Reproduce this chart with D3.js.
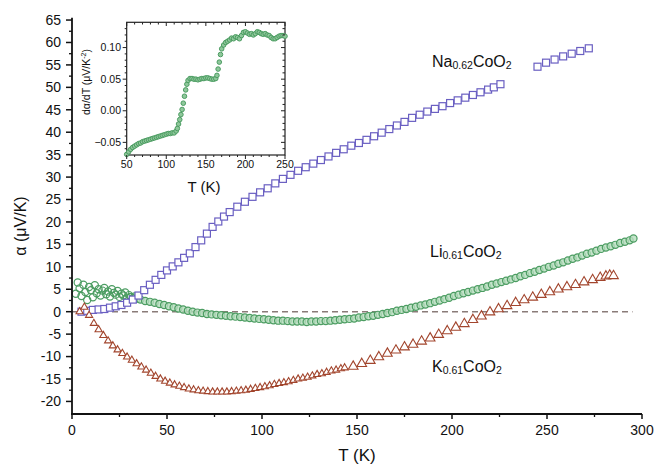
<!DOCTYPE html>
<html><head><meta charset="utf-8">
<script src="https://cdn.jsdelivr.net/npm/d3@7"></script>
<style>body{margin:0;background:#fff}svg{display:block}text{font-family:"Liberation Sans",Arial,sans-serif;fill:#111}</style>
</head><body><div id="c"></div>
<script>
// ---------- data ----------
const naT = [5,8,11,14,17,20,23,26,29,32,35,38,41,44,47,50,53,56,59,62,65,68,71,74,77,80,83,87,91,95,99,103,107,111,115,119,123,127,131,135,139,143,147,151,155,159,163,167,171,175,179,183,187,191,195,199,203,207,211,215,219,222,225.5,
             245,249.5,254,258.5,263,267.5,272];
const naA = [0.0,0.2,0.4,0.5,0.6,0.9,1.2,1.5,2.0,2.7,3.6,4.8,6.0,7.1,8.2,9.2,10.1,11.0,12.0,13.0,14.4,15.9,17.4,18.9,20.1,21.2,22.2,23.4,24.5,25.6,26.6,27.5,28.6,29.6,30.5,31.4,32.2,33.0,33.8,34.6,35.4,36.2,37.0,37.6,38.3,39.1,39.9,40.7,41.5,42.3,43.2,43.9,44.6,45.2,45.8,46.5,47.1,47.7,48.3,48.9,49.5,50.0,50.7,
             54.6,55.5,56.2,56.9,57.5,58.1,58.7];

const kT1 = [4,6.5,9,11.5,14,16.5,19,21.5,24,26.5,29,31.5,34,36.5,39,41.5,44,46.5,49,51.5,54,56.5,59,61.5,64,66.5,69,71.5,74,76.5,79,81.5,84,86.5,89,91.5,94,96.5,99,101.5,104,106.5,109,111.5,114,116.5,119,121.5,124,126.5,129,131.5,134,136.5,139,141.5,143.5];
const kA1 = [0.0,1.0,-0.8,-2.6,-4.0,-5.3,-6.5,-7.6,-8.5,-9.3,-10.1,-10.8,-11.6,-12.3,-13.0,-13.7,-14.4,-15.0,-15.5,-15.9,-16.3,-16.6,-16.9,-17.2,-17.4,-17.6,-17.7,-17.8,-17.9,-17.9,-17.9,-17.9,-17.8,-17.7,-17.6,-17.5,-17.3,-17.1,-16.9,-16.7,-16.5,-16.2,-16.0,-15.8,-15.6,-15.3,-15.0,-14.8,-14.6,-14.3,-14.0,-13.8,-13.5,-13.2,-13.0,-12.7,-12.5];
const kT2 = [148,152.5,157,161.5,166,170.5,175,179.5,184,188.5,193,197.5,202,206.5,211,215.5,220,224.5,229,233.5,238,242.5,247,251.5,256,260.5,265,269.5,274,278,281,283,285];
const kA2 = [-12.2,-11.6,-10.9,-10.1,-9.3,-8.6,-7.9,-7.3,-6.6,-5.9,-5.1,-4.3,-3.5,-2.7,-1.8,-1.0,-0.1,0.6,1.3,2.0,2.6,3.2,3.8,4.4,5.0,5.5,6.0,6.6,7.1,7.6,7.9,8.1,8.0];

const liT = [2,3,4,5,6,7,8,9,10,11,12,13,14,15,16,17,18,19,20,21,22,23,24,25,26,27,28,29,30,31,32,33,34,
  36,38.5,41,43.5,46,48.5,51,53.5,56,58.5,61,63.5,66,68.5,71,73.5,76,78.5,81,83.5,86,88.5,91,93.5,96,98.5,101,103.5,106,108.5,111,113.5,116,118.5,121,123.5,126,128.5,131,133.5,136,138.5,141,143.5,146,148.5,151,153.5,156,158.5,161,163.5,166,168.5,171,173.5,176,178.5,181,183.5,186,188.5,191,193.5,196,198.5,201,203.5,206,208.5,211,213.5,216,218.5,221,223.5,226,228.5,231,233.5,236,238.5,241,243.5,246,248.5,251,253.5,256,258.5,261,263.5,266,268.5,271,273.5,276,278.5,281,283.5,286,288.5,291,293.5,295.5];
const liA = [4.0,6.5,5.2,3.5,6.0,4.4,2.6,5.5,4.8,3.2,5.9,4.1,5.0,3.6,4.7,5.3,3.9,4.5,3.4,5.0,4.2,3.8,4.6,3.3,4.0,3.6,4.3,3.1,3.7,3.3,3.0,3.4,2.9,
  2.7,2.4,2.2,2.0,1.7,1.5,1.2,1.0,0.7,0.5,0.2,0.0,-0.2,-0.3,-0.5,-0.6,-0.7,-0.8,-0.9,-1.0,-1.1,-1.2,-1.3,-1.4,-1.5,-1.6,-1.7,-1.8,-1.9,-2.0,-2.0,-2.1,-2.2,-2.2,-2.2,-2.3,-2.2,-2.2,-2.1,-2.1,-2.0,-1.9,-1.8,-1.7,-1.6,-1.5,-1.3,-1.2,-1.0,-0.9,-0.7,-0.5,-0.3,-0.1,0.2,0.4,0.6,0.9,1.1,1.4,1.6,1.9,2.2,2.5,2.8,3.1,3.5,3.8,4.1,4.4,4.7,5.0,5.3,5.6,6.0,6.3,6.6,6.9,7.2,7.5,7.9,8.2,8.6,8.9,9.3,9.6,10.0,10.3,10.7,11.0,11.4,11.8,12.1,12.5,12.9,13.2,13.6,14.0,14.3,14.6,14.9,15.3,15.6,15.9,16.3];

const inT = [50,52.5,55,57.5,60,62.5,65,67.5,70,72.5,75,77.5,80,82.5,85,87.5,90,92.5,95,97.5,100,102.5,105,107.5,110,112.5,114,115.5,117,118.5,120,121.5,123,124.5,126,127.5,130,132.5,135,137.5,140,142.5,145,147.5,150,152.5,155,157.5,160,162.5,164,165.5,167,168.5,170,172.5,175,177.5,180,182.5,185,187.5,190,192.5,195,197.5,200,202.5,205,207.5,210,212.5,215,217.5,220,222.5,225,227.5,230,232.5,235,237.5,240,242.5,245,247.5,250];
const inV = [-0.069,-0.065,-0.061,-0.058,-0.056,-0.054,-0.052,-0.051,-0.049,-0.048,-0.047,-0.046,-0.045,-0.044,-0.043,-0.042,-0.041,-0.040,-0.039,-0.038,-0.037,-0.036,-0.036,-0.035,-0.035,-0.032,-0.028,-0.021,-0.014,-0.006,0.002,0.012,0.023,0.033,0.042,0.048,0.051,0.051,0.050,0.050,0.049,0.050,0.051,0.051,0.052,0.052,0.051,0.050,0.050,0.051,0.056,0.066,0.077,0.089,0.098,0.104,0.108,0.110,0.112,0.115,0.114,0.117,0.116,0.114,0.119,0.124,0.125,0.123,0.121,0.122,0.120,0.122,0.125,0.124,0.122,0.121,0.122,0.120,0.119,0.116,0.114,0.114,0.116,0.118,0.119,0.119,0.118];

const xTicks = [0,50,100,150,200,250,300];
const yTicks = [-20,-15,-10,-5,0,5,10,15,20,25,30,35,40,45,50,55,60,65];
const inXTicks = [50,100,150,200,250];
const inYTicks = [-0.05,0.00,0.05,0.10];

// ---------- drawing ----------
const W=654,H=467;
const svg=d3.select("#c").append("svg").attr("width",W).attr("height",H);
const x=d3.scaleLinear().domain([0,300]).range([72,642]);
const y=d3.scaleLinear().domain([-22.8,65.5]).range([414,17.8]);

const colNa="#6a5fc2", colLi="#4c9d62", colK="#a2452d";

// dashed zero line
svg.append("line").attr("x1",x(0)).attr("x2",x(295)).attr("y1",y(0)).attr("y2",y(0))
  .attr("stroke","#8a7b78").attr("stroke-width",1.5).attr("stroke-dasharray","6,4");

// Li circles
svg.append("g").selectAll("circle").data(liT).join("circle")
  .attr("cx",(d)=>x(d)).attr("cy",(d,i)=>y(liA[i])).attr("r",3.6)
  .attr("fill",(d,i)=>i<33?"none":"#b5dcbd").attr("fill-opacity",0.8).attr("stroke",colLi).attr("stroke-width",1.2);

// Na squares
const sq=7;
svg.append("g").selectAll("rect").data(naT).join("rect")
  .attr("x",(d)=>x(d)-sq/2).attr("y",(d,i)=>y(naA[i])-sq/2).attr("width",sq).attr("height",sq)
  .attr("fill","#fff").attr("stroke",colNa).attr("stroke-width",1.2);

// K triangles
const tri=d3.symbol().type(d3.symbolTriangle);
svg.append("g").selectAll("path").data(kT1).join("path")
  .attr("d",tri.size(22)())
  .attr("transform",(d,i)=>`translate(${x(d)},${y(kA1[i])})`)
  .attr("fill","#fff").attr("stroke",colK).attr("stroke-width",1.1);
svg.append("g").selectAll("path").data(kT2).join("path")
  .attr("d",d3.symbol().type(d3.symbolTriangle).size(40)())
  .attr("transform",(d,i)=>`translate(${x(d)},${y(kA2[i])})`)
  .attr("fill","#fff").attr("stroke",colK).attr("stroke-width",1.1);

// axes
const xAxis=svg.append("g").attr("transform",`translate(0,414)`);
xAxis.append("line").attr("x1",71).attr("x2",x(300)).attr("stroke","#111").attr("stroke-width",1.8);
xAxis.selectAll(".mj").data(xTicks).join("line").attr("x1",d=>x(d)).attr("x2",d=>x(d)).attr("y1",0).attr("y2",5).attr("stroke","#111").attr("stroke-width",1.5);
xAxis.selectAll(".mn").data(xTicks.slice(0,-1)).join("line").attr("class","mn").attr("x1",d=>x(d+25)).attr("x2",d=>x(d+25)).attr("y1",0).attr("y2",3).attr("stroke","#111").attr("stroke-width",1.3);
xAxis.selectAll("text").data(xTicks).join("text").attr("x",d=>x(d)).attr("y",21).attr("text-anchor","middle").attr("font-size",14).text(d=>d);

const yAxis=svg.append("g").attr("transform",`translate(72,0)`);
yAxis.append("line").attr("y1",y(65.5)).attr("y2",415).attr("stroke","#111").attr("stroke-width",1.8);
yAxis.selectAll(".mj").data(yTicks).join("line").attr("x1",-6).attr("x2",0).attr("y1",d=>y(d)).attr("y2",d=>y(d)).attr("stroke","#111").attr("stroke-width",1.5);
yAxis.selectAll(".mn").data(yTicks.slice(0,-1)).join("line").attr("class","mn").attr("x1",-3).attr("x2",0).attr("y1",d=>y(d+2.5)).attr("y2",d=>y(d+2.5)).attr("stroke","#111").attr("stroke-width",1.3);
yAxis.selectAll("text").data(yTicks).join("text").attr("x",-11).attr("y",d=>y(d)).attr("dy","0.35em").attr("text-anchor","end").attr("font-size",14).text(d=>d);

svg.append("text").attr("x",357).attr("y",461).attr("text-anchor","middle").attr("font-size",17).text("T (K)");
svg.append("text").attr("transform","translate(26,226) rotate(-90)").attr("text-anchor","middle").attr("font-size",16).text("α (μV/K)");

// series labels
function label(px,py,a,sub,b,sub2){
  const t=svg.append("text").attr("x",px).attr("y",py).attr("font-size",16);
  t.append("tspan").text(a);
  t.append("tspan").attr("font-size",10.5).attr("dy",1.5).text(sub);
  t.append("tspan").attr("dy",-1.5).text(b);
  t.append("tspan").attr("font-size",10.5).attr("dy",1.5).text(sub2);
}
label(432,67,"Na","0.62","CoO","2");
label(430,257,"Li","0.61","CoO","2");
label(432,372,"K","0.61","CoO","2");

// inset
const ix=d3.scaleLinear().domain([50,250]).range([126.7,285]);
const iy=d3.scaleLinear().domain([-0.07,0.14]).range([155,22.3]);
const ig=svg.append("g");
ig.append("rect").attr("x",126.7).attr("y",22.3).attr("width",285-126.7).attr("height",155-22.3).attr("fill","#fff").attr("stroke","#222").attr("stroke-width",1.2);
ig.append("g").selectAll("circle").data(inT).join("circle").attr("cx",d=>ix(d)).attr("cy",(d,i)=>iy(inV[i])).attr("r",2.3)
  .attr("fill","#8fc79b").attr("stroke",colLi).attr("stroke-width",1);
const inXMinor=[60,70,80,90,110,120,130,140,160,170,180,190,210,220,230,240];
const inYMinor=[-0.06,-0.04,-0.03,-0.02,-0.01,0.01,0.02,0.03,0.04,0.06,0.07,0.08,0.09,0.11,0.12,0.13];
ig.selectAll(".ixt").data(inXTicks).join("line").attr("x1",d=>ix(d)).attr("x2",d=>ix(d)).attr("y1",155).attr("y2",159).attr("stroke","#222");
ig.selectAll(".ixt2").data(inXTicks.concat(inXMinor)).join("line").attr("x1",d=>ix(d)).attr("x2",d=>ix(d)).attr("y1",22.3).attr("y2",d=>inXTicks.includes(d)?26:24.5).attr("stroke","#222");
ig.selectAll(".ixm").data(inXMinor).join("line").attr("x1",d=>ix(d)).attr("x2",d=>ix(d)).attr("y1",155).attr("y2",157).attr("stroke","#222");
ig.selectAll(".iyt").data(inYTicks).join("line").attr("x1",122.7).attr("x2",126.7).attr("y1",d=>iy(d)).attr("y2",d=>iy(d)).attr("stroke","#222");
ig.selectAll(".iym").data(inYMinor).join("line").attr("x1",124.7).attr("x2",126.7).attr("y1",d=>iy(d)).attr("y2",d=>iy(d)).attr("stroke","#222");
ig.selectAll(".iyr").data(inYTicks.concat(inYMinor)).join("line").attr("x1",285).attr("x2",d=>inYTicks.includes(d)?281:282.5).attr("y1",d=>iy(d)).attr("y2",d=>iy(d)).attr("stroke","#222");
ig.selectAll(".ixl").data(inXTicks).join("text").attr("class","ixl").attr("x",d=>ix(d)).attr("y",168).attr("text-anchor","middle").attr("font-size",10.5).text(d=>d);
ig.selectAll(".iyl").data(inYTicks).join("text").attr("class","iyl").attr("x",121).attr("y",d=>iy(d)).attr("dy","0.35em").attr("text-anchor","end").attr("font-size",10.5).text(d=>d3.format(".2f")(d));
ig.append("text").attr("x",204).attr("y",192).attr("text-anchor","middle").attr("font-size",15).text("T (K)");
const il=ig.append("text").attr("transform","translate(90,82) rotate(-90)").attr("text-anchor","middle").attr("font-size",10.5);
il.append("tspan").text("dα/dT (μV/K");
il.append("tspan").attr("font-size",7).attr("dy",-4).text("-2");
il.append("tspan").attr("dy",4).text(")");
</script></body></html>
